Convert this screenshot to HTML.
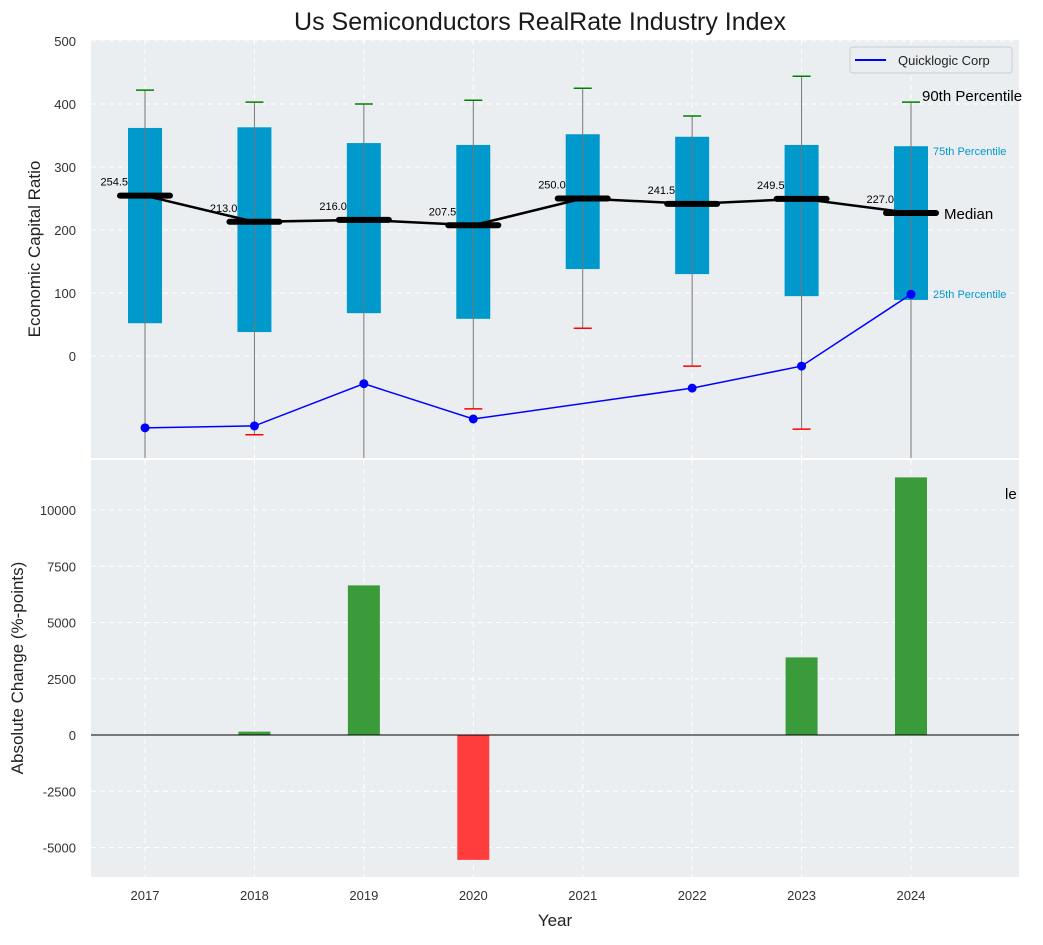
<!DOCTYPE html>
<html><head><meta charset="utf-8"><style>
body{margin:0;background:#fff;font-family:"Liberation Sans",sans-serif}
svg text{font-family:"Liberation Sans",sans-serif}
</style></head><body>
<svg id="c" width="1043" height="940" xmlns="http://www.w3.org/2000/svg">
<text x="540" y="30" font-size="25" text-anchor="middle" fill="#1a1a1a">Us Semiconductors RealRate Industry Index</text>
<g id="topPanel"></g>
<g id="botPanel"></g>
</svg>
<script>
const years=[2017,2018,2019,2020,2021,2022,2023,2024];
const p10=[-200,-125,-200,-84,44,-16,-116,-200];
const q1=[52,38,68,59,138,130,95,89];
const med=[254.5,213.0,216.0,207.5,250.0,241.5,249.5,227.0];
const q3=[362,363,338,335,352,348,335,333];
const p90=[422,403,400,406,425,381,444,403];
const company=[-114,-111,-44,-100,null,-51,-16,98];
const changes=[0,150,6650,-5550,0,0,3450,11450];
const topTicks=[0,100,200,300,400,500];
const botTicks=[-5000,-2500,0,2500,5000,7500,10000];

const NS="http://www.w3.org/2000/svg";
const L=91,R=1019;
const X=y=>145+(y-2017)*109.43;
const TT=40,TB=458; const YT=v=>356-v*0.63;
const BT=460,BB=877; const YB=v=>735-v*0.0225;
function mk(p,tag,a,txt){const el=document.createElementNS(NS,tag);for(const k in a)el.setAttribute(k,a[k]);if(txt!==undefined)el.textContent=txt;p.appendChild(el);return el;}
const topG=document.getElementById('topPanel'),botG=document.getElementById('botPanel');
const svgEl=document.getElementById('c');
const defs=mk(svgEl,'defs',{});
const cp=mk(defs,'clipPath',{id:'ct'});mk(cp,'rect',{x:L,y:TT,width:R-L,height:TB-TT});
const cp2=mk(defs,'clipPath',{id:'cb'});mk(cp2,'rect',{x:L,y:BT,width:R-L,height:BB-BT});
let e;

e=mk(topG,'rect',{x:L,y:TT,width:R-L,height:TB-TT,fill:'#ebeef0'});


e=mk(botG,'rect',{x:L,y:BT,width:R-L,height:BB-BT,fill:'#ebeef0'});



years.forEach(y=>{
 mk(topG,'line',{x1:X(y),x2:X(y),y1:TT,y2:TB,stroke:'#fff','stroke-dasharray':'5,4'});
 mk(botG,'line',{x1:X(y),x2:X(y),y1:BT,y2:BB,stroke:'#fff','stroke-dasharray':'5,4'});
 e=mk(botG,'text',{x:X(y),y:BB+23,'font-size':13,'text-anchor':'middle',fill:'#333'},y);
 
 
});
topTicks.forEach(v=>{
 mk(topG,'line',{x1:L,x2:R,y1:YT(v),y2:YT(v),stroke:'#fff','stroke-dasharray':'5,4'});
 e=mk(topG,'text',{x:L-15,y:YT(v)+5,'font-size':13,'text-anchor':'end',fill:'#333'},v);
 
 
});
botTicks.forEach(v=>{
 mk(botG,'line',{x1:L,x2:R,y1:YB(v),y2:YB(v),stroke:'#fff','stroke-dasharray':'5,4'});
 e=mk(botG,'text',{x:L-15,y:YB(v)+5,'font-size':13,'text-anchor':'end',fill:'#333'},v);
 
 
});

const g=mk(topG,'g',{'clip-path':'url(#ct)'});
years.forEach((y,i)=>{
 const x=X(y);
 e=mk(g,'rect',{x:x-17,y:YT(q3[i]),width:34,height:YT(q1[i])-YT(q3[i]),fill:'#0099cc'});
 
 
 mk(g,'line',{x1:x,x2:x,y1:YT(p90[i]),y2:YT(p10[i]),stroke:'#777','stroke-width':1});
 e=mk(g,'line',{x1:x-9,x2:x+9,y1:YT(p90[i]),y2:YT(p90[i]),stroke:'green','stroke-width':1.5});
 
 
 e=mk(g,'line',{x1:x-9,x2:x+9,y1:YT(p10[i]),y2:YT(p10[i]),stroke:'red','stroke-width':1.5});
 
 
});
e=mk(g,'polyline',{points:years.map((y,i)=>X(y)+','+YT(med[i])).join(' '),fill:'none',stroke:'#000','stroke-width':2.5});


years.forEach((y,i)=>{
 e=mk(g,'line',{x1:X(y)-25,x2:X(y)+25,y1:YT(med[i]),y2:YT(med[i]),stroke:'#000','stroke-width':6,'stroke-linecap':'round'});
 
 
 e=mk(topG,'text',{x:X(y)-17,y:YT(med[i])-10,'font-size':11,'text-anchor':'end',fill:'#000'},med[i].toFixed(1));
 
 
});
const pts=[];
company.forEach((v,i)=>{if(v!==null)pts.push([X(years[i]),YT(v)]);});
e=mk(g,'polyline',{points:pts.map(p=>p.join(',')).join(' '),fill:'none',stroke:'blue','stroke-width':1.5});


pts.forEach(p=>{
 e=mk(g,'circle',{cx:p[0],cy:p[1],r:4.5,fill:'blue'});
 
 
});

const lx=X(2024);
e=mk(svgEl,'text',{x:lx+11,y:YT(p90[7])-1,'font-size':15,fill:'#000'},'90th Percentile');


e=mk(topG,'text',{x:lx+22,y:YT(q3[7])+9,'font-size':11,fill:'#0099cc'},'75th Percentile');


e=mk(topG,'text',{x:lx+33,y:YT(med[7])+6,'font-size':15,fill:'#000'},'Median');


e=mk(topG,'text',{x:lx+22,y:YT(q1[7])-2,'font-size':11,fill:'#0099cc'},'25th Percentile');



const lg=mk(topG,'g',{});


mk(lg,'rect',{x:850,y:47,width:162,height:26,rx:3,fill:'#ebeef0',stroke:'#ccc'});
mk(lg,'line',{x1:855,x2:886,y1:60,y2:60,stroke:'blue','stroke-width':2});
mk(lg,'text',{x:898,y:65,'font-size':13,fill:'#222'},'Quicklogic Corp');

const gb=mk(botG,'g',{'clip-path':'url(#cb)'});
years.forEach((y,i)=>{
 const v=changes[i]; if(v===0)return;
 e=mk(gb,'rect',{x:X(y)-16,y:Math.min(YB(v),YB(0)),width:32,height:Math.abs(YB(v)-YB(0)),fill:v>0?'#3a9b3a':'#ff3d3d'});
 
 
});
mk(botG,'line',{x1:L,x2:R,y1:YB(0),y2:YB(0),stroke:'#000','stroke-width':1});
e=mk(svgEl,'text',{x:1005,y:499,'font-size':15,fill:'#000'},'le');



e=mk(svgEl,'text',{x:40,y:249,'font-size':17,fill:'#222','text-anchor':'middle',transform:'rotate(-90 40 249)'},'Economic Capital Ratio');


e=mk(svgEl,'text',{x:23,y:668,'font-size':17,fill:'#222','text-anchor':'middle',transform:'rotate(-90 23 668)'},'Absolute Change (%-points)');


e=mk(svgEl,'text',{x:555,y:926,'font-size':17,fill:'#222','text-anchor':'middle'},'Year');


</script>
</body></html>
